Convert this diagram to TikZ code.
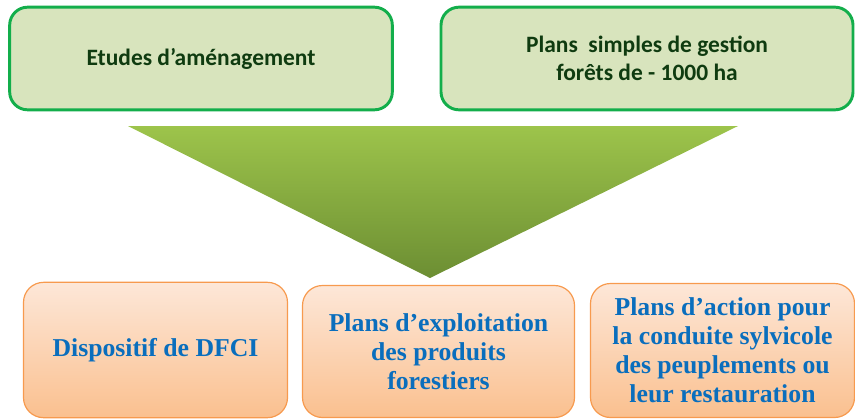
\documentclass[tikz,border=0pt]{standalone}
\usepackage{fontspec}
\newfontfamily\hautfont{Carlito}
\newfontfamily\basfont{Liberation Serif}
\usepackage{tikz}
\definecolor{vertbord}{HTML}{13AE4B}
\definecolor{vertfond}{HTML}{D8E4BD}
\definecolor{verttexte}{HTML}{0F3B10}
\definecolor{vertclair}{HTML}{9DC44B}
\definecolor{vertfonce}{HTML}{6C8E33}
\definecolor{orbord}{HTML}{F79A4E}
\definecolor{orhaut}{HTML}{FDE7D8}
\definecolor{orbas}{HTML}{FAC08F}
\definecolor{bleutexte}{HTML}{0A6EBD}
\tikzstyle{etude} = [rectangle, rounded corners=13.5pt, draw=vertbord, line width=2.2pt, fill=vertfond, text=verttexte, align=center, font=\hautfont\bfseries\fontsize{17.6}{21}\selectfont]
\tikzstyle{plan} = [rectangle, rounded corners=15pt, draw=orbord, line width=0.9pt, top color=orhaut, bottom color=orbas, text=bleutexte, align=center, font=\basfont\bfseries\fontsize{19.3}{21.8}\selectfont]

\begin{document}
\begin{tikzpicture}[x=0.75pt, y=-0.75pt]

        \useasboundingbox (0,0) rectangle (855,419);

        %% documents de gestion

        \node (amenag) [etude, minimum width=287pt, minimum height=77pt] at (201,58.5) {Etudes d’aménagement};
        \node (psg) [etude, minimum width=309pt, minimum height=77pt] at (647,58.5) {Plans\ \ simples de gestion\\forêts de - 1000 ha};

        %% entonnoir

        \shade[top color=vertclair, bottom color=vertfonce] (128,126) -- (738,126) -- (430,278) -- cycle;

        %% plans

        \node (dfci) [plan, minimum width=198pt, minimum height=101.5pt] at (155.5,350) {Dispositif de DFCI};
        \node (exploit) [plan, minimum width=204pt, minimum height=99pt] at (438.5,351.5) {Plans d’exploitation\\des produits\\forestiers};
        \node (sylvi) [plan, minimum width=198pt, minimum height=100.5pt] at (722.5,350.5) {Plans d’action pour\\la conduite sylvicole\\des peuplements ou\\leur restauration};

    \end{tikzpicture}
\end{document}
